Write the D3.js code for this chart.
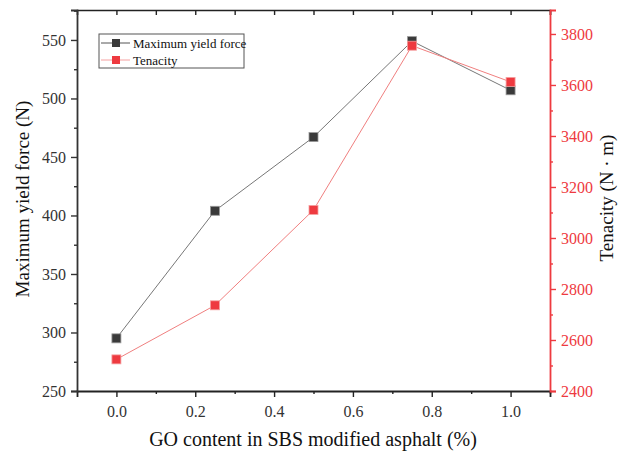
<!DOCTYPE html>
<html>
<head>
<meta charset="utf-8">
<script src="https://cdn.jsdelivr.net/npm/d3@7"></script>
<style>
  body { margin: 0; background: #fff; }
</style>
</head>
<body>
<svg id="chart" width="619" height="454"></svg>
<script>
// data
var goContent = [0, 0.25, 0.5, 0.75, 1.0];
var yieldForce = [295, 404, 467, 549, 507];
var tenacity = [2524, 2736, 3110, 3754, 3612];

var xTicks = [0, 0.2, 0.4, 0.6, 0.8, 1.0];
var leftTicks = [250, 300, 350, 400, 450, 500, 550];
var rightTicks = [2400, 2600, 2800, 3000, 3200, 3400, 3600, 3800];

var w = 619, h = 454;
var m = {left: 77, right: 69, top: 10, bottom: 63};
var svg = d3.select("#chart");
var serif = "Liberation Serif, DejaVu Serif, serif";

var xScale = d3.scaleLinear().domain([-0.1, 1.1]).range([m.left, w - m.right]);
var yScaleLeft = d3.scaleLinear().domain([250, 575.6]).range([h - m.bottom, m.top]);
var yScaleRight = d3.scaleLinear().domain([2400, 3894]).range([h - m.bottom, m.top]);

var red = "#ee3a40";
var dark = "#3a3a3a";

// minor ticks
var xMinor = d3.range(-0.1, 1.1001, 0.1).map(d => +d.toFixed(2));
var leftMinor = d3.range(275, 576, 50);
var rightMinor = d3.range(2500, 3900, 200);

// top axis (mirror, ticks inward)
var topAxis = svg.append("g")
    .attr("transform", `translate(0,${m.top})`)
    .call(d3.axisTop(xScale).tickValues(xMinor.filter(d => d >= 0)).tickSize(-5).tickFormat(""));
topAxis.select(".domain").attr("stroke", "#222").attr("stroke-width", 1.6);
topAxis.selectAll("line").attr("stroke", "#222").attr("stroke-width", 1.4);

// bottom axis
var xAxis = svg.append("g")
    .attr("transform", `translate(0,${h - m.bottom})`)
    .call(d3.axisBottom(xScale).tickValues(xTicks).tickSize(6).tickPadding(9).tickFormat(d3.format(".1f")));
svg.append("g")
    .attr("transform", `translate(0,${h - m.bottom})`)
    .call(d3.axisBottom(xScale).tickValues(xMinor.filter(d => d > 0 && Math.round(d * 10) % 2 == 1)).tickSize(3).tickFormat(""))
    .call(g => g.select(".domain").remove())
    .selectAll("line").attr("stroke", "#222").attr("stroke-width", 1.4);
xAxis.select(".domain").attr("stroke", "#222").attr("stroke-width", 1.8);
xAxis.selectAll("line").attr("stroke", "#222").attr("stroke-width", 1.4);
xAxis.selectAll("text").style("font-family", serif).style("font-size", "16px").attr("fill", "#333");

// left axis
var yAxisLeft = svg.append("g")
    .attr("transform", `translate(${m.left},0)`)
    .call(d3.axisLeft(yScaleLeft).tickValues(leftTicks).tickSize(6).tickPadding(5));
svg.append("g")
    .attr("transform", `translate(${m.left},0)`)
    .call(d3.axisLeft(yScaleLeft).tickValues(leftMinor).tickSize(3).tickFormat(""))
    .call(g => g.select(".domain").remove())
    .selectAll("line").attr("stroke", "#333").attr("stroke-width", 1.4);
yAxisLeft.select(".domain").attr("stroke", "#333").attr("stroke-width", 1.8);
yAxisLeft.selectAll("line").attr("stroke", "#333").attr("stroke-width", 1.4);
yAxisLeft.selectAll("text").style("font-family", serif).style("font-size", "16px").attr("fill", "#333");

// right axis (red)
var yAxisRight = svg.append("g")
    .attr("transform", `translate(${w - m.right},0)`)
    .call(d3.axisRight(yScaleRight).tickValues(rightTicks).tickSize(6).tickPadding(5).tickFormat(d3.format("d")));
svg.append("g")
    .attr("transform", `translate(${w - m.right},0)`)
    .call(d3.axisRight(yScaleRight).tickValues(rightMinor).tickSize(3).tickFormat(""))
    .call(g => g.select(".domain").remove())
    .selectAll("line").attr("stroke", red).attr("stroke-width", 1.4);
yAxisRight.select(".domain").attr("stroke", red).attr("stroke-width", 1.8);
yAxisRight.selectAll("line").attr("stroke", red).attr("stroke-width", 1.4);
yAxisRight.selectAll("text").style("font-family", serif).style("font-size", "16px").attr("fill", red);

// lines
var lineLeft = d3.line()
    .x((d, i) => xScale(goContent[i]))
    .y(d => yScaleLeft(d));
var lineRight = d3.line()
    .x((d, i) => xScale(goContent[i]))
    .y(d => yScaleRight(d));

svg.append("path")
    .datum(yieldForce)
    .attr("fill", "none")
    .attr("stroke", "#777")
    .attr("stroke-width", 1)
    .attr("d", lineLeft);

svg.append("path")
    .datum(tenacity)
    .attr("fill", "none")
    .attr("stroke", "#f07f7f")
    .attr("stroke-width", 1)
    .attr("d", lineRight);

var size = 9;
svg.selectAll(".dot-left")
    .data(yieldForce)
    .enter().append("rect")
    .attr("class", "dot-left")
    .attr("x", (d, i) => xScale(goContent[i]) - size / 2)
    .attr("y", d => yScaleLeft(d) - size / 2)
    .attr("width", size).attr("height", size)
    .attr("fill", dark)
    .attr("stroke", "#999").attr("stroke-width", 0.8);

svg.selectAll(".dot-right")
    .data(tenacity)
    .enter().append("rect")
    .attr("class", "dot-right")
    .attr("x", (d, i) => xScale(goContent[i]) - size / 2)
    .attr("y", d => yScaleRight(d) - size / 2)
    .attr("width", size).attr("height", size)
    .attr("fill", red)
    .attr("stroke", "#f5a0a0").attr("stroke-width", 0.8);

// legend
var legend = svg.append("g").attr("class", "legend");
legend.append("rect")
    .attr("x", 99).attr("y", 34).attr("width", 145).attr("height", 34)
    .attr("fill", "#fff").attr("stroke", "#555").attr("stroke-width", 1);

var legendData = [
    {label: "Maximum yield force", line: "#555", fill: dark, y: 43},
    {label: "Tenacity", line: "#f5a0a0", fill: red, y: 60}
];
var item = legend.selectAll(".legend-item")
    .data(legendData)
    .enter().append("g")
    .attr("class", "legend-item");
item.append("line")
    .attr("x1", 101).attr("x2", 130)
    .attr("y1", d => d.y).attr("y2", d => d.y)
    .attr("stroke", d => d.line).attr("stroke-width", 1);
item.append("rect")
    .attr("x", 112).attr("y", d => d.y - 4)
    .attr("width", 8).attr("height", 8)
    .attr("fill", d => d.fill);
item.append("text")
    .attr("x", 133).attr("y", d => d.y + 4.5)
    .style("font-family", serif)
    .style("font-size", "13px")
    .attr("fill", "#111")
    .text(d => d.label);

// axis titles
svg.append("text")
    .attr("text-anchor", "middle")
    .attr("x", 313)
    .attr("y", 446)
    .style("font-family", serif)
    .style("font-size", "20px")
    .attr("fill", "#111")
    .text("GO content in SBS modified asphalt (%)");

svg.append("text")
    .attr("text-anchor", "middle")
    .attr("transform", "translate(29,199) rotate(-90)")
    .style("font-family", serif)
    .style("font-size", "19px")
    .attr("fill", "#111")
    .text("Maximum yield force (N)");

svg.append("text")
    .attr("text-anchor", "middle")
    .attr("transform", "translate(613,198) rotate(-90)")
    .style("font-family", serif)
    .style("font-size", "19px")
    .attr("fill", "#111")
    .text("Tenacity (N \u00b7 m)");
</script>
</body>
</html>
